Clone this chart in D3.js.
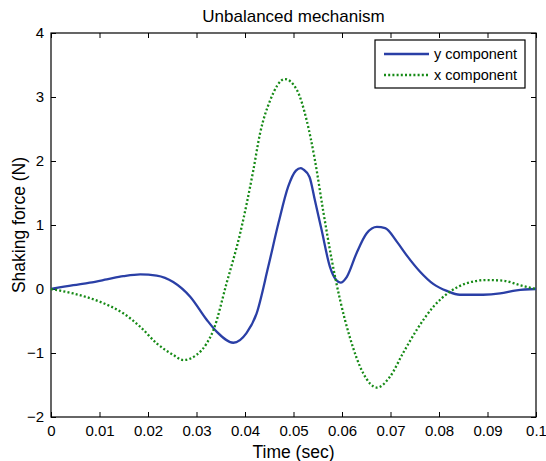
<!DOCTYPE html>
<html><head><meta charset="utf-8">
<script src="https://cdn.jsdelivr.net/npm/d3@7"></script>
<style>body{margin:0;background:#fff}svg{display:block}text{font-family:"Liberation Sans",Arial,Helvetica,sans-serif;fill:#000}</style>
</head><body>
<script>
const timeY = [0,.0046,.008,.0115,.0149,.0184,.0218,.0252,.0287,.0321,.0342,.0376,.0403,.0424,.0448,.0469,.0489,.0505,.0515,.052,.0533,.0544,.0558,.0575,.0588,.0597,.061,.063,.0651,.0672,.0689,.0713,.0733,.0761,.0788,.0816,.0843,.0891,.0926,.096,.1];
const yComponent = [0,.06,.1,.15,.2,.23,.21,.11,-.12,-.48,-.67,-.84,-.69,-.38,.35,1.03,1.6,1.85,1.89,1.87,1.75,1.39,.92,.35,.14,.1,.19,.56,.87,.97,.95,.74,.53,.27,.08,-.03,-.09,-.09,-.07,-.02,0];
const timeX = [0,.0046,.0101,.0149,.0184,.0218,.0252,.0273,.030,.0321,.0335,.0362,.039,.0417,.0431,.0452,.0482,.0507,.0527,.0544,.0561,.0579,.0596,.0616,.0644,.0672,.0699,.0726,.0754,.0788,.0823,.0857,.0898,.0933,.0967,.1];
const xComponent = [0,-.07,-.2,-.38,-.59,-.85,-1.03,-1.11,-1.03,-.85,-.64,.09,.87,1.85,2.43,2.95,3.28,3.11,2.64,2.02,1.23,.45,-.17,-.75,-1.32,-1.54,-1.37,-1.0,-.64,-.28,-.04,.09,.14,.13,.06,0];
const xTicks = [0,.01,.02,.03,.04,.05,.06,.07,.08,.09,.1];
const xTickLabels = ["0","0.01","0.02","0.03","0.04","0.05","0.06","0.07","0.08","0.09","0.1"];
const yTicks = [-2,-1,0,1,2,3,4];
const seriesNames = ["y component","x component"];
const title = "Unbalanced mechanism", xLabel = "Time (sec)", yLabel = "Shaking force (N)";

const W=546,H=461, L=51, R=536, T=33, B=417;
const svg=d3.select("body").append("svg").attr("width",W).attr("height",H);
const x=d3.scaleLinear().domain([0,.1]).range([L,R]);
const y=d3.scaleLinear().domain([-2,4]).range([B,T]);

svg.append("rect").attr("x",L).attr("y",T).attr("width",R-L).attr("height",B-T).attr("fill","none").attr("stroke","#000").attr("stroke-width",1.2);

const bx=svg.append("g").attr("transform",`translate(0,${B})`).call(d3.axisBottom(x).tickValues(xTicks).tickFormat((d,i)=>xTickLabels[i]).tickSizeInner(-5).tickSizeOuter(0).tickPadding(8));
const tx=svg.append("g").attr("transform",`translate(0,${T})`).call(d3.axisTop(x).tickValues(xTicks).tickFormat("").tickSizeInner(-5).tickSizeOuter(0));
const ly=svg.append("g").attr("transform",`translate(${L},0)`).call(d3.axisLeft(y).tickValues(yTicks).tickFormat(d3.format("d")).tickSizeInner(-5).tickSizeOuter(0).tickPadding(7));
const ry=svg.append("g").attr("transform",`translate(${R},0)`).call(d3.axisRight(y).tickValues(yTicks).tickFormat("").tickSizeInner(-5).tickSizeOuter(0));
[bx,tx,ly,ry].forEach(g=>{g.select(".domain").remove();g.selectAll("line").attr("stroke","#000");g.selectAll("text").style("font-size","15px").style("font-family","Liberation Sans, Arial, sans-serif").attr("fill","#000");});
bx.selectAll("text").attr("dy","0.71em");

const line=d3.line().curve(d3.curveMonotoneX);
svg.append("path").attr("d",line(timeY.map((t,i)=>[x(t),y(yComponent[i])]))).attr("fill","none").attr("stroke","#2a3fa6").attr("stroke-width",2.3);
svg.append("path").attr("d",line(timeX.map((t,i)=>[x(t),y(xComponent[i])]))).attr("fill","none").attr("stroke","#168a16").attr("stroke-width",2.3).attr("stroke-dasharray","2,2.2");

const lg=svg.append("g");
lg.append("rect").attr("x",375).attr("y",40).attr("width",150).attr("height",48).attr("fill","#fff").attr("stroke","#000").attr("stroke-width",1.2);
const styles=[{c:"#2a3fa6",d:null},{c:"#168a16",d:"2,2.2"}];
seriesNames.forEach((n,i)=>{
  const yy=54+i*21;
  const l=lg.append("line").attr("x1",384).attr("x2",429).attr("y1",yy).attr("y2",yy).attr("stroke",styles[i].c).attr("stroke-width",2.3);
  if(styles[i].d) l.attr("stroke-dasharray",styles[i].d);
  lg.append("text").attr("x",434).attr("y",yy).attr("dy","0.35em").style("font-size","14.5px").text(n);
});

svg.append("text").attr("x",(L+R)/2).attr("y",22).attr("text-anchor","middle").style("font-size","17px").text(title);
svg.append("text").attr("x",(L+R)/2).attr("y",458).attr("text-anchor","middle").style("font-size","17.5px").text(xLabel);
svg.append("text").attr("transform",`translate(25,${(T+B)/2}) rotate(-90)`).attr("text-anchor","middle").style("font-size","17.5px").text(yLabel);
</script>
</body></html>
